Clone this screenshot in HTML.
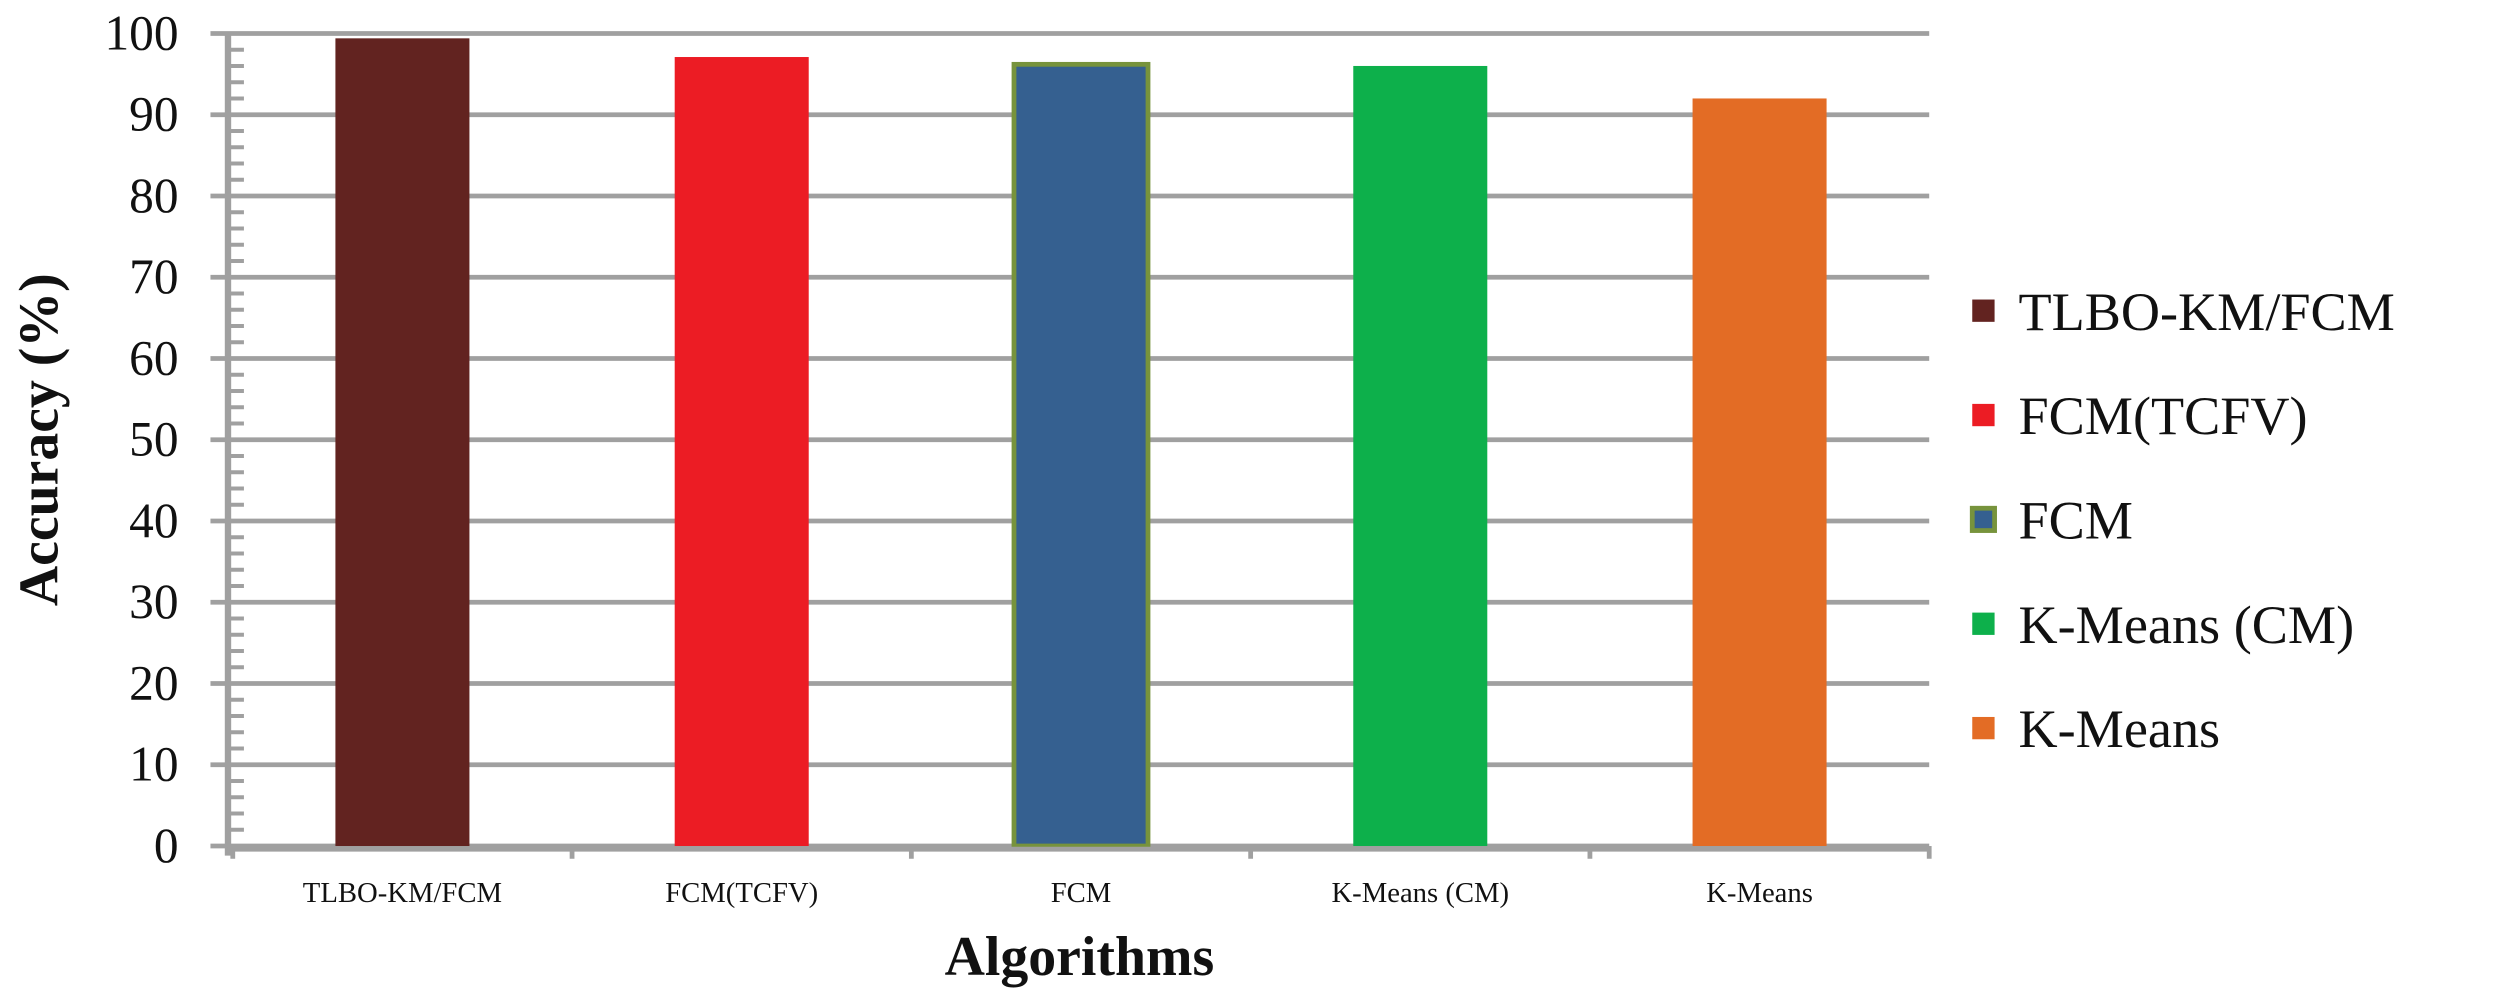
<!DOCTYPE html>
<html><head><meta charset="utf-8"><style>
html,body{margin:0;padding:0;background:#fff;}
svg{display:block;}
text{font-family:"Liberation Serif",serif;fill:#111;}
</style></head><body>
<svg id="chart" width="2500" height="991" viewBox="0 0 1568 622" preserveAspectRatio="none" xmlns="http://www.w3.org/2000/svg">
<g id="grid"></g>
<g id="yaxis"></g>
<g id="bars"></g>
<g id="xaxis"></g>
<text transform="translate(36,276) rotate(-90)" text-anchor="middle" font-size="35" font-weight="bold">Accuracy (%)</text>
<text x="677" y="612" text-anchor="middle" font-size="35" font-weight="bold">Algorithms</text>
<g id="legend"></g>
</svg>
<script>
const categories = ["TLBO-KM/FCM","FCM(TCFV)","FCM","K-Means (CM)","K-Means"];
const values = [99.4, 97.1, 96.2, 96.0, 92.0];
const colors = ["#622320","#ec1c24","#356090","#0db04b","#e36c25"];
const yTicks = [0,10,20,30,40,50,60,70,80,90,100];

const NS="http://www.w3.org/2000/svg";
const X0=146, X1=1210, Y0=531, Y1=21, YMAX=100;
function y(v){return Y0-(v/YMAX)*(Y0-Y1);}
const band=(X1-X0)/categories.length;
function xc(i){return X0+band*(i+0.5);}
function mk(tag,attrs,parent){const e=document.createElementNS(NS,tag);for(const k in attrs)e.setAttribute(k,attrs[k]);parent.appendChild(e);return e;}

const grid=document.getElementById('grid'), yax=document.getElementById('yaxis'), bars=document.getElementById('bars'), xax=document.getElementById('xaxis'), leg=document.getElementById('legend');

yTicks.forEach(t=>{
  const l=mk('line',{x1:132,x2:X1,y1:y(t),y2:y(t),stroke:'#a0a0a0','stroke-width':3},grid);
  
  
  const tx=mk('text',{x:112,y:y(t)+10,'text-anchor':'end','font-size':31},yax);
  tx.textContent=t;
  
  
});
// axis line and minor ticks
const al=mk('line',{x1:X0-3,x2:X0-3,y1:Y1,y2:Y0+6,stroke:'#a0a0a0','stroke-width':4},yax);


for(let v=0;v<YMAX;v+=2){
  const m=mk('line',{x1:X0-3,x2:X0+7,y1:y(v),y2:y(v),stroke:'#a0a0a0','stroke-width':2.5},yax);
  
  
}

const bw=band*0.395;
values.forEach((v,i)=>{
  const isF=i===2;
  const r=mk('rect',{x:xc(i)-bw/2,y:y(v),width:bw,height:Y0-y(v),fill:colors[i]},bars);
  if(isF){r.setAttribute('stroke','#77933c');r.setAttribute('stroke-width',3);}
  
  
});

const xl=mk('line',{x1:X0-3,x2:X1,y1:Y0+2,y2:Y0+2,stroke:'#a0a0a0','stroke-width':3},xax);


for(let i=0;i<=categories.length;i++){
  const t=mk('line',{x1:X0+band*i,x2:X0+band*i,y1:Y0,y2:Y0+8,stroke:'#a0a0a0','stroke-width':3},xax);
  
  
}
categories.forEach((c,i)=>{
  const t=mk('text',{x:xc(i),y:566,'text-anchor':'middle','font-size':18},xax);
  t.textContent=c;
  
  
});

categories.forEach((c,i)=>{
  const cy=195+i*65.5;
  const g=mk('g',{},leg);
  
  
  const s=mk('rect',{x:1237,y:cy-7,width:14,height:14,fill:colors[i]},g);
  if(i===2){s.setAttribute('stroke','#77933c');s.setAttribute('stroke-width',3);}
  
  
  const t=mk('text',{x:1266,y:cy+12,'font-size':34},g);
  t.textContent=c;
  
  
});
</script>
</body></html>
